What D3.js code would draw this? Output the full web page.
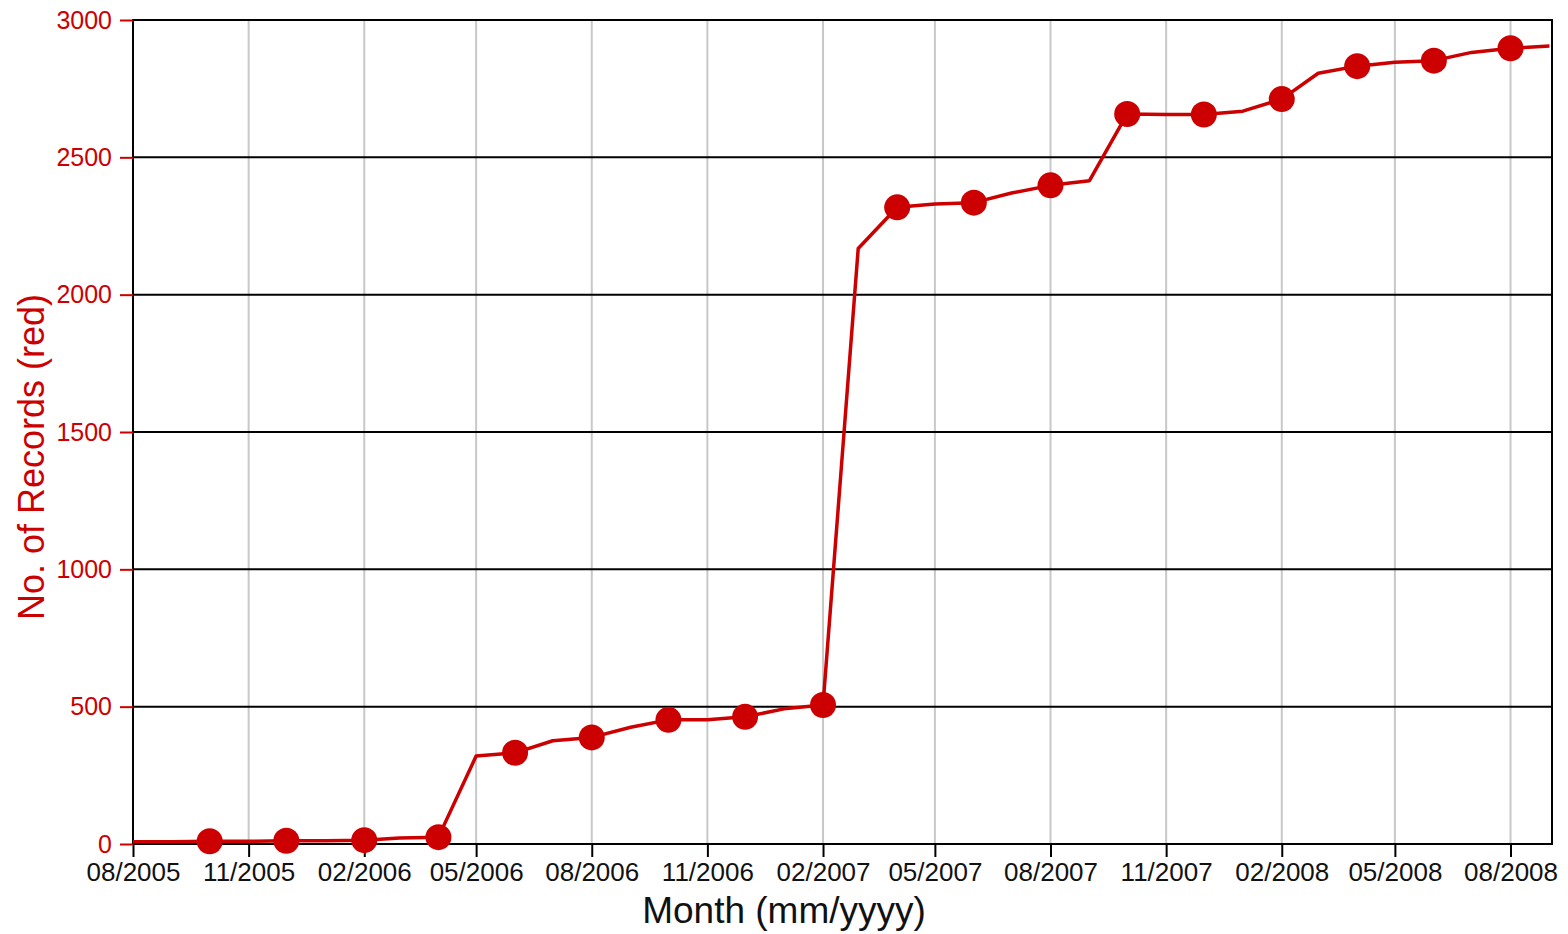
<!DOCTYPE html>
<html>
<head>
<meta charset="utf-8">
<script src="https://cdn.jsdelivr.net/npm/d3@7"></script>
<style>
  body { margin: 0; background: #fff; }
  svg { display: block; font-family: "Liberation Sans", Arial, sans-serif; }
</style>
</head>
<body>
<svg id="chart" width="1568" height="934"></svg>
<script>
// Data

const months = [
    "2005-08", "2005-09", "2005-10", "2005-11", "2005-12",
    "2006-01", "2006-02", "2006-03", "2006-04", "2006-05", "2006-06",
    "2006-07", "2006-08", "2006-09", "2006-10", "2006-11", "2006-12",
    "2007-01", "2007-02", "2007-03", "2007-04", "2007-05", "2007-06",
    "2007-07", "2007-08", "2007-09", "2007-10", "2007-11", "2007-12",
    "2008-01", "2008-02", "2008-03", "2008-04", "2008-05", "2008-06",
    "2008-07", "2008-08", "2008-09"
];

const records = [
    8, 8, 10, 10, 12,
    12, 14, 22, 25, 320, 332,
    376, 388, 425, 452, 452, 463,
    492, 506, 2168, 2318, 2330, 2335,
    2370, 2398, 2415, 2658, 2656, 2656,
    2668, 2712, 2806, 2832, 2846, 2852,
    2882, 2897, 2905
];

const markerMonths = [
    "2005-10", "2005-12", "2006-02", "2006-04", "2006-06", "2006-08",
    "2006-10", "2006-12", "2007-02", "2007-04", "2007-06", "2007-08",
    "2007-10", "2007-12", "2008-02", "2008-04", "2008-06", "2008-08"
];

const yTicks = [0, 500, 1000, 1500, 2000, 2500, 3000];

const xTitle = "Month (mm/yyyy)";
const yTitle = "No. of Records (red)";

// Layout

const red = "#cc0000";
const parse = d3.timeParse("%Y-%m");
const data = months.map((m, i) => ({ date: parse(m), value: records[i], key: m }));

const m = { left: 133, top: 20, right: 16, bottom: 90 };
const W = 1568, H = 934;

const svg = d3.select("#chart");

const x = d3.scaleTime()
    .domain([parse("2005-08"), new Date(2008, 8, 3)])
    .range([m.left, W - m.right]);

const y = d3.scaleLinear()
    .domain([0, 3000])
    .range([H - m.bottom, m.top]);

// every third month starting at 08/2005
const xTickDates = d3.timeMonth.range(parse("2005-08"), new Date(2008, 8, 2), 3);

// Grid

svg.append("g")
    .selectAll("line")
    .data(xTickDates)
    .join("line")
    .attr("x1", d => x(d)).attr("x2", d => x(d))
    .attr("y1", y(3000)).attr("y2", y(0))
    .attr("stroke", "#c8c8c8")
    .attr("stroke-width", 2);

svg.append("g")
    .selectAll("line")
    .data(yTicks)
    .join("line")
    .attr("x1", m.left).attr("x2", W - m.right)
    .attr("y1", d => y(d)).attr("y2", d => y(d))
    .attr("stroke", "#000")
    .attr("stroke-width", 2);

svg.append("rect")
    .attr("x", m.left).attr("y", m.top)
    .attr("width", W - m.right - m.left)
    .attr("height", y(0) - m.top)
    .attr("fill", "none")
    .attr("stroke", "#000")
    .attr("stroke-width", 2);

// Axes

const xAxis = svg.append("g")
    .attr("transform", `translate(0, ${y(0)})`)
    .call(d3.axisBottom(x)
        .tickValues(xTickDates)
        .tickFormat(d3.timeFormat("%m/%Y"))
        .tickSize(13)
        .tickPadding(6));

xAxis.select(".domain").remove();
xAxis.selectAll(".tick line").attr("stroke", "#000").attr("stroke-width", 2);
xAxis.selectAll(".tick text")
    .attr("fill", "#111")
    .style("font-size", "26px");

const yAxis = svg.append("g")
    .attr("transform", `translate(${m.left}, 0)`)
    .call(d3.axisLeft(y)
        .tickValues(yTicks)
        .tickFormat(d3.format("d"))
        .tickSize(13)
        .tickPadding(8));

yAxis.select(".domain").remove();
yAxis.selectAll(".tick line").attr("stroke", red).attr("stroke-width", 2);
yAxis.selectAll(".tick text")
    .attr("fill", red)
    .style("font-size", "25px");

svg.append("text")
    .attr("x", 784)
    .attr("y", 923)
    .attr("text-anchor", "middle")
    .attr("fill", "#111")
    .style("font-size", "37px")
    .text(xTitle);

svg.append("text")
    .attr("transform", `translate(44, 457) rotate(-90)`)
    .attr("text-anchor", "middle")
    .attr("fill", red)
    .style("font-size", "36px")
    .text(yTitle);

// Line and markers

const line = d3.line()
    .x(d => x(d.date))
    .y(d => y(d.value));

svg.append("path")
    .datum(data)
    .attr("d", line)
    .attr("fill", "none")
    .attr("stroke", red)
    .attr("stroke-width", 3.5)
    .attr("stroke-linejoin", "round");

svg.append("g")
    .selectAll("circle")
    .data(data.filter(d => markerMonths.includes(d.key)))
    .join("circle")
    .attr("cx", d => x(d.date))
    .attr("cy", d => y(d.value))
    .attr("r", 13)
    .attr("fill", red);
</script>
</body>
</html>
